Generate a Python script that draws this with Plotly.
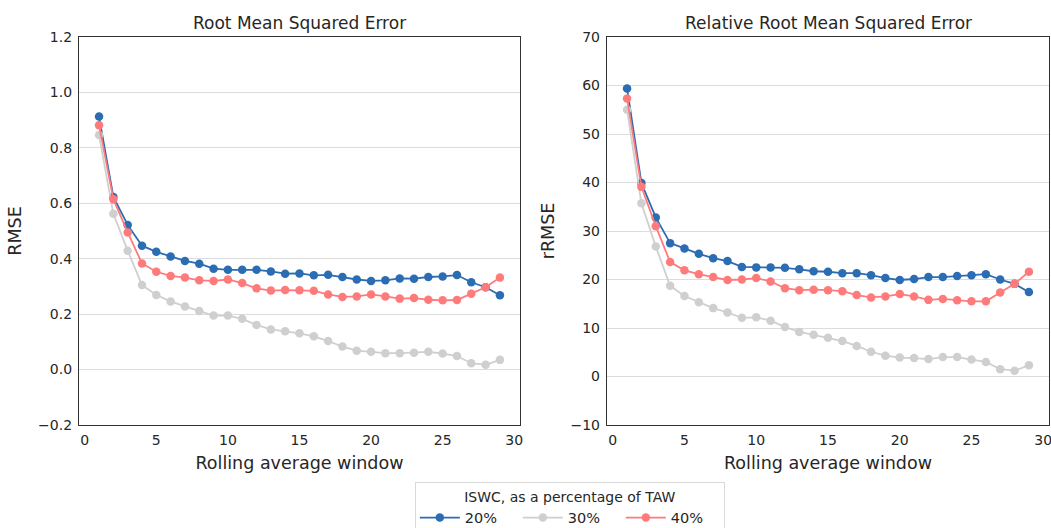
import plotly.graph_objects as go
from plotly.subplots import make_subplots

window = list(range(1, 30))

rmse_20 = [0.913, 0.623, 0.522, 0.447, 0.425, 0.408, 0.392, 0.382, 0.364, 0.360,
           0.360, 0.360, 0.354, 0.346, 0.347, 0.340, 0.342, 0.334, 0.325, 0.320,
           0.322, 0.329, 0.328, 0.334, 0.336, 0.341, 0.315, 0.297, 0.268]
rmse_30 = [0.846, 0.562, 0.429, 0.305, 0.269, 0.246, 0.228, 0.211, 0.195, 0.195,
           0.183, 0.161, 0.145, 0.138, 0.131, 0.120, 0.103, 0.083, 0.068, 0.064,
           0.059, 0.059, 0.061, 0.064, 0.058, 0.049, 0.023, 0.017, 0.035]
rmse_40 = [0.882, 0.615, 0.495, 0.383, 0.353, 0.338, 0.332, 0.322, 0.320, 0.325,
           0.312, 0.293, 0.285, 0.287, 0.286, 0.284, 0.271, 0.262, 0.264, 0.271,
           0.264, 0.256, 0.258, 0.252, 0.250, 0.251, 0.274, 0.297, 0.332]

rrmse_20 = [59.4, 39.9, 32.8, 27.5, 26.4, 25.3, 24.4, 23.8, 22.6, 22.5,
            22.5, 22.4, 22.1, 21.7, 21.6, 21.3, 21.3, 20.9, 20.3, 19.9,
            20.1, 20.5, 20.5, 20.7, 20.9, 21.1, 20.0, 19.1, 17.4]
rrmse_30 = [55.0, 35.7, 26.8, 18.7, 16.6, 15.3, 14.1, 13.2, 12.1, 12.2,
            11.5, 10.2, 9.2, 8.6, 8.0, 7.3, 6.3, 5.1, 4.3, 3.9,
            3.8, 3.6, 4.0, 4.0, 3.5, 3.0, 1.5, 1.2, 2.3]
rrmse_40 = [57.3, 39.1, 31.0, 23.6, 21.9, 21.1, 20.5, 19.9, 20.0, 20.3,
            19.6, 18.2, 17.8, 17.9, 17.8, 17.6, 16.8, 16.3, 16.5, 17.0,
            16.5, 15.8, 16.0, 15.7, 15.5, 15.5, 17.3, 19.1, 21.6]

series_names = ["20%", "30%", "40%"]
colors = ["#2b6cb3", "#cfcfcf", "#ff7b7b"]

titles = ["Root Mean Squared Error", "Relative Root Mean Squared Error"]
y_titles = ["RMSE", "rRMSE"]
x_title = "Rolling average window"

FONT = "DejaVu Sans"
TXT = "#262626"

fig = make_subplots(rows=1, cols=2, horizontal_spacing=0.0897)

left_data = [rmse_20, rmse_30, rmse_40]
right_data = [rrmse_20, rrmse_30, rrmse_40]

for i, (name, col) in enumerate(zip(series_names, colors)):
    fig.add_trace(go.Scatter(x=window, y=left_data[i], mode="lines+markers", name=name,
                             line=dict(color=col, width=1.8),
                             marker=dict(color=col, size=8.5),
                             legendgroup=name, showlegend=True), row=1, col=1)
for i, (name, col) in enumerate(zip(series_names, colors)):
    fig.add_trace(go.Scatter(x=window, y=right_data[i], mode="lines+markers", name=name,
                             line=dict(color=col, width=1.8),
                             marker=dict(color=col, size=8.5),
                             legendgroup=name, showlegend=False), row=1, col=2)

axis_common = dict(showline=True, linecolor="#333333", linewidth=1.3, mirror=True,
                   ticks="", tickfont=dict(family=FONT, size=14, color=TXT),
                   zeroline=False, automargin=False, ticklabeloverflow="allow")

fig.update_xaxes(range=[-0.4, 30.4], tickvals=[0, 5, 10, 15, 20, 25, 30],
                 showgrid=False, ticklabelstandoff=2,
                 title=dict(text=x_title, font=dict(family=FONT, size=17.5, color=TXT), standoff=9),
                 **axis_common)
fig.update_yaxes(showgrid=True, gridcolor="#dcdcdc", gridwidth=1, ticklabelstandoff=3,
                 **axis_common)
fig.update_yaxes(range=[-0.2, 1.2], tickvals=[-0.2, 0.0, 0.2, 0.4, 0.6, 0.8, 1.0, 1.2],
                 ticktext=["\u22120.2", "0.0", "0.2", "0.4", "0.6", "0.8", "1.0", "1.2"],
                 title=dict(text=y_titles[0], font=dict(family=FONT, size=17.5, color=TXT), standoff=11),
                 row=1, col=1)
fig.update_yaxes(range=[-10, 70], tickvals=[-10, 0, 10, 20, 30, 40, 50, 60, 70],
                 ticktext=["\u221210", "0", "10", "20", "30", "40", "50", "60", "70"],
                 title=dict(text=y_titles[1], font=dict(family=FONT, size=17.5, color=TXT), standoff=11),
                 row=1, col=2)

fig.update_xaxes(domain=[0.0, 0.4546], row=1, col=1)
fig.update_xaxes(domain=[0.5443, 1.0], row=1, col=2)

annotations = []
for dom_center, t in zip([0.2273, 0.7722], titles):
    annotations.append(dict(text=t, x=dom_center, y=1.0, xref="paper", yref="paper",
                            xanchor="center", yanchor="bottom", yshift=2, showarrow=False,
                            font=dict(family=FONT, size=17, color=TXT)))

fig.update_layout(
    width=1051, height=528,
    margin=dict(l=79, r=2, t=37, b=103, autoexpand=False),
    plot_bgcolor="white", paper_bgcolor="white",
    annotations=annotations,
    showlegend=True,
    legend=dict(orientation="h", x=0.506, xanchor="center", y=-0.148, yanchor="top",
                title=dict(text="ISWC, as a percentage of TAW", side="top center",
                           font=dict(family=FONT, size=14, color=TXT)),
                font=dict(family=FONT, size=14.5, color=TXT),
                bordercolor="#d9d9d9", borderwidth=1, bgcolor="white",
                itemwidth=40, entrywidth=48, entrywidthmode="pixels", tracegroupgap=0),
)

fig.write_html("out.html", config={"displayModeBar": False},
               post_script="document.body.style.margin='0';document.body.style.overflow='hidden';")
